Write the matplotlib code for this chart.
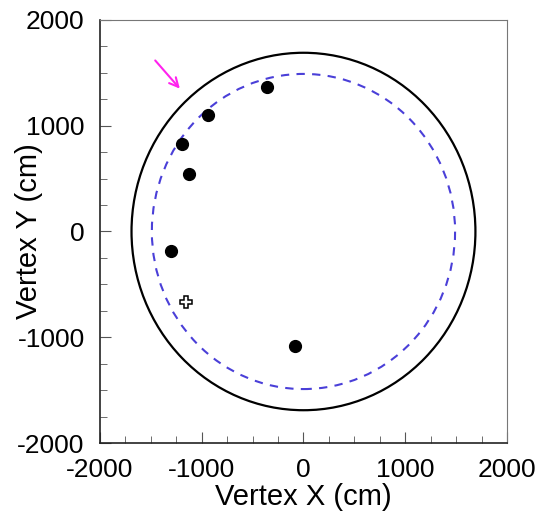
import matplotlib
matplotlib.use('Agg')
from matplotlib import pyplot as plt
from matplotlib.patches import Circle, FancyArrowPatch

plt.rcParams['font.family'] = ['Liberation Sans', 'DejaVu Sans']
plt.rcParams['axes.unicode_minus'] = False

# vertex positions (cm)
vx = [-361, -935, -1190, -1125, -1299, -83]
vy = [1363, 1101, 824, 541, -181, -1079]
# open cross event
cross_x = [-1157]
cross_y = [-669]
# detector radii (cm)
r_outer = 1690
r_fid = 1490
# arrow (tail, head)
arrow_tail = (-1475, 1637)
arrow_head = (-1197, 1331)

ticks = [-2000, -1000, 0, 1000, 2000]

fig = plt.figure(figsize=(5.41, 5.15), dpi=100)
ax = fig.add_axes([0.1848, 0.1398, 0.7523, 0.8214])

ax.add_patch(Circle((0, 0), r_outer, fill=False, color='black', lw=1.6))
ax.add_patch(Circle((0, 0), r_fid, fill=False, color='#4a3fd8', lw=1.5,
                    linestyle=(0, (4, 3.5))))

ax.plot(vx, vy, 'o', color='black', markersize=8.5)
ax.plot(cross_x, cross_y, 'P', markerfacecolor='white', markeredgecolor='black',
        markersize=8, markeredgewidth=1.1)

ax.add_patch(FancyArrowPatch(arrow_tail, arrow_head, arrowstyle='->', mutation_scale=16,
                             color='#ff22ee', lw=1.5))

ax.set_xlim(-2000, 2000)
ax.set_ylim(-2000, 2000)
ax.set_xticks(ticks)
ax.set_yticks(ticks)
ax.set_xticks(range(-2000, 2001, 250), minor=True)
ax.set_yticks(range(-2000, 2001, 250), minor=True)
ax.tick_params(which='both', direction='in', top=False, right=False,
               labelsize=19, pad=11, color='#555555')
ax.tick_params(which='major', length=8)
ax.tick_params(which='minor', length=5)

for s in ['top', 'right']:
    ax.spines[s].set_color('#777777')
for s in ['left', 'bottom']:
    ax.spines[s].set_color('#222222')
    ax.spines[s].set_linewidth(1.2)

ax.set_xlabel('Vertex X (cm)', fontsize=21)
ax.set_ylabel('Vertex Y (cm)', fontsize=21)
ax.xaxis.set_label_coords(0.5, -0.094)
ax.yaxis.set_label_coords(-0.14, 0.5)

fig.savefig('out.png', dpi=100)
